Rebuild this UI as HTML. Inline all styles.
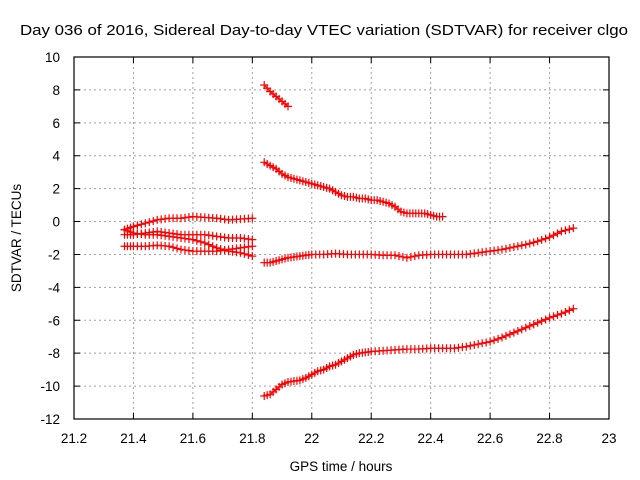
<!DOCTYPE html>
<html><head><meta charset="utf-8"><style>
body{margin:0;background:#fff;}
svg{display:block;font-family:"Liberation Sans",Arial,sans-serif;}
</style></head><body>
<svg id="chart" width="640" height="480" viewBox="0 0 640 480">
<rect x="0" y="0" width="640" height="480" fill="#fff"/>
<text x="20" y="35" font-size="14.5" textLength="608" lengthAdjust="spacingAndGlyphs">Day 036 of 2016, Sidereal Day-to-day VTEC variation (SDTVAR) for receiver clgo</text>
<text x="341" y="471" font-size="13.5" text-anchor="middle">GPS time / hours</text>
<text transform="translate(21,238) rotate(-90)" font-size="13.5" text-anchor="middle">SDTVAR / TECUs</text>
<g id="grid"></g>
<g id="axes"></g>
<g id="series"></g>
</svg>
<script>
const xTicks=[21.2,21.4,21.6,21.8,22,22.2,22.4,22.6,22.8,23];
const xTickLabels=["21.2","21.4","21.6","21.8","22","22.2","22.4","22.6","22.8","23"];
const yTicks=[-12,-10,-8,-6,-4,-2,0,2,4,6,8,10];
const yTickLabels=["-12","-10","-8","-6","-4","-2","0","2","4","6","8","10"];

const aX=[21.84,21.86,21.88,21.90,21.92];
const aY=[8.3,7.9,7.6,7.3,7.0];
const bX=[21.84,21.86,21.88,21.90,21.92,21.94,21.96,21.98,22.00,22.02,22.04,22.06,22.08,22.10,22.12,22.14,22.16,22.18,22.20,22.22,22.24,22.26,22.28,22.30,22.32,22.34,22.36,22.38,22.40,22.42,22.44];
const bY=[3.6,3.4,3.2,2.9,2.7,2.6,2.5,2.4,2.3,2.2,2.1,2.0,1.8,1.6,1.5,1.5,1.4,1.4,1.3,1.3,1.2,1.1,0.9,0.6,0.5,0.5,0.5,0.5,0.4,0.3,0.3];
const cX=[21.84,21.86,21.88,21.90,21.92,21.94,21.96,21.98,22.00,22.04,22.08,22.12,22.16,22.20,22.24,22.28,22.32,22.36,22.40,22.44,22.48,22.52,22.56,22.60,22.64,22.68,22.72,22.76,22.80,22.84,22.88];
const cY=[-2.5,-2.5,-2.4,-2.3,-2.2,-2.15,-2.1,-2.05,-2.0,-2.0,-1.95,-2.0,-2.0,-2.0,-2.05,-2.05,-2.2,-2.05,-2.0,-2.0,-2.0,-2.0,-1.9,-1.8,-1.7,-1.55,-1.4,-1.2,-0.95,-0.6,-0.4];
const dX=[21.84,21.86,21.88,21.90,21.92,21.94,21.96,21.98,22.00,22.02,22.04,22.06,22.08,22.10,22.12,22.14,22.16,22.18,22.20,22.24,22.28,22.32,22.36,22.40,22.44,22.48,22.52,22.56,22.60,22.64,22.68,22.72,22.76,22.80,22.84,22.88];
const dY=[-10.6,-10.5,-10.2,-9.9,-9.75,-9.7,-9.65,-9.5,-9.3,-9.1,-9.0,-8.8,-8.7,-8.5,-8.3,-8.1,-8.0,-7.95,-7.9,-7.85,-7.8,-7.75,-7.75,-7.7,-7.7,-7.7,-7.6,-7.45,-7.3,-7.05,-6.75,-6.45,-6.15,-5.85,-5.6,-5.3];
const eX=[21.37,21.40,21.44,21.48,21.52,21.56,21.60,21.64,21.68,21.72,21.76,21.80];
const eY=[-0.5,-0.3,-0.1,0.1,0.2,0.2,0.3,0.25,0.2,0.1,0.15,0.2];
const fX=[21.37,21.40,21.44,21.48,21.52,21.56,21.60,21.64,21.68,21.72,21.76,21.80];
const fY=[-0.8,-0.8,-0.7,-0.6,-0.7,-0.8,-0.8,-0.8,-0.9,-1.0,-1.0,-1.1];
const gX=[21.37,21.40,21.44,21.48,21.52,21.56,21.60,21.64,21.68,21.72,21.76,21.80];
const gY=[-1.5,-1.5,-1.5,-1.45,-1.5,-1.7,-1.8,-1.8,-1.8,-1.7,-1.6,-1.5];
const hX=[21.37,21.40,21.44,21.48,21.52,21.56,21.60,21.64,21.68,21.72,21.76,21.80];
const hY=[-0.5,-0.7,-0.8,-0.8,-0.9,-1.0,-1.1,-1.3,-1.6,-1.8,-1.9,-2.1];

const L=74,R=609,T=57,B=419,xMin=21.2,xMax=23,yMin=-12,yMax=10;
const sx=v=>L+(v-xMin)/(xMax-xMin)*(R-L);
const sy=v=>B-(v-yMin)/(yMax-yMin)*(B-T);
const NS="http://www.w3.org/2000/svg";
function mk(tag,attrs,parent){const e=document.createElementNS(NS,tag);for(const k in attrs)e.setAttribute(k,attrs[k]);parent.appendChild(e);return e;}
const grid=document.getElementById('grid'),axes=document.getElementById('axes'),ser=document.getElementById('series');

xTicks.forEach((t,i)=>{
  const x=sx(t);
  if(i>0&&i<xTicks.length-1){const g=mk('line',{x1:x,y1:T,x2:x,y2:B,stroke:'#a0a0a0','stroke-dasharray':'2,3'},grid);
  
  }
  const tk=mk('path',{d:`M${x},${B}v-6M${x},${T}v6`,stroke:'#000'},axes);
  
  
  const lb=mk('text',{x:x,y:B+24,'font-size':'13.5','text-anchor':'middle'},axes);
  lb.textContent=xTickLabels[i];
  
  
});
yTicks.forEach((t,i)=>{
  const y=sy(t);
  if(i>0&&i<yTicks.length-1){const g=mk('line',{x1:L,y1:y,x2:R,y2:y,stroke:'#a0a0a0','stroke-dasharray':'2,3'},grid);
  
  }
  const tk=mk('path',{d:`M${L},${y}h6M${R},${y}h-6`,stroke:'#000'},axes);
  
  
  const lb=mk('text',{x:L-14,y:y+5,'font-size':'13.5','text-anchor':'end'},axes);
  lb.textContent=yTickLabels[i];
  
  
});
const border=mk('rect',{x:L,y:T,width:R-L,height:B-T,fill:'none',stroke:'#000','stroke-width':'1.2'},axes);



const all=[[aX,aY],[bX,bY],[cX,cY],[dX,dY],[eX,eY],[fX,fY],[gX,gY],[hX,hY]];
all.forEach(([xs,ys],si)=>{
  const pts=xs.map((x,i)=>sx(x)+','+sy(ys[i])).join(' ');
  const pl=mk('polyline',{points:pts,fill:'none',stroke:'#ff0000','stroke-width':'1.2'},ser);
  
  
  let d='';
  for(let i=0;i<xs.length;i++){
    const x0=sx(xs[i]),y0=sy(ys[i]);
    d+=`M${x0-4},${y0}h8M${x0},${y0-4}v8`;
    if(i<xs.length-1){
      const x1=sx(xs[i+1]),y1=sy(ys[i+1]);
      const n=Math.max(1,Math.round((x1-x0)/3.5));
      for(let k=1;k<n;k++){const xm=x0+(x1-x0)*k/n,ym=y0+(y1-y0)*k/n;d+=`M${xm-4},${ym}h8M${xm},${ym-4}v8`;}
    }
  }
  const mp=mk('path',{d:d,stroke:'#ff0000','stroke-width':'1.2',fill:'none'},ser);
  
  
});
</script>
</body></html>
